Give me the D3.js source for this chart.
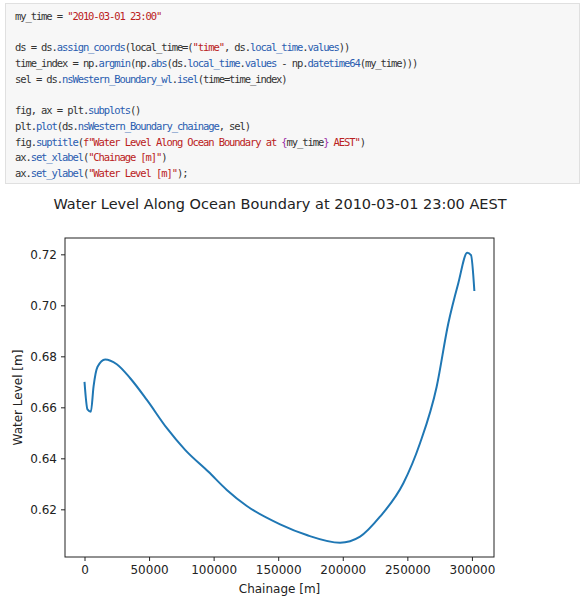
<!DOCTYPE html>
<html><head><meta charset="utf-8">
<script src="https://cdn.jsdelivr.net/npm/d3@7"></script>
<style>
body{margin:0;background:#fff;font-family:"DejaVu Sans",sans-serif;}
#code{position:absolute;left:5px;top:3px;width:575px;height:181px;background:#f7f7f7;border:1px solid #e0e0e0;box-sizing:border-box;}
#code pre{margin:0;padding:5px 0 0 9px;font-family:"DejaVu Sans Mono",monospace;font-size:10.5px;letter-spacing:-1.1px;line-height:15.7px;color:#333;}
.s{color:#ba2121}.a{color:#2a5db0}.k{color:#9a2fa8}
</style></head><body>
<div id="code"><pre>my_time = <span class="s">"2010-03-01 23:00"</span>

ds = ds.<span class="a">assign_coords</span>(local_time=(<span class="s">"time"</span>, ds.<span class="a">local_time</span>.<span class="a">values</span>))
time_index = np.<span class="a">argmin</span>(np.<span class="a">abs</span>(ds.<span class="a">local_time</span>.<span class="a">values</span> - np.<span class="a">datetime64</span>(my_time)))
sel = ds.<span class="a">nsWestern_Boundary_wl</span>.<span class="a">isel</span>(time=time_index)

fig, ax = plt.<span class="a">subplots</span>()
plt.<span class="a">plot</span>(ds.<span class="a">nsWestern_Boundary_chainage</span>, sel)
fig.<span class="a">suptitle</span>(<span class="s">f"Water Level Along Ocean Boundary at </span><span class="k">{</span>my_time<span class="k">}</span><span class="s"> AEST"</span>)
ax.<span class="a">set_xlabel</span>(<span class="s">"Chainage [m]"</span>)
ax.<span class="a">set_ylabel</span>(<span class="s">"Water Level [m]"</span>);</pre></div>
<svg id="chart" width="586" height="599" style="position:absolute;left:0;top:0;pointer-events:none"></svg>
<script>
const chainage = [0, 2300, 4950, 7000, 10100, 16000, 25000, 35400, 48300, 63800, 77900, 96000, 110200, 125700, 151500, 172100, 197900, 213400, 228800, 246900, 259800, 272700, 281700, 289400, 296400, 299300, 301900];
const waterLevel = [0.670, 0.6592, 0.6583, 0.6681, 0.6759, 0.6788, 0.6769, 0.6714, 0.6629, 0.6518, 0.6433, 0.6347, 0.6276, 0.6213, 0.6141, 0.6099, 0.6069, 0.6093, 0.6171, 0.6302, 0.6459, 0.6681, 0.6929, 0.7086, 0.7206, 0.7197, 0.7056];
const xTicks = [0, 50000, 100000, 150000, 200000, 250000, 300000];
const yTicks = [0.62, 0.64, 0.66, 0.68, 0.70, 0.72];

const M = {left: 65, right: 92, top: 238, bottom: 42};
const svg = d3.select("#chart");
const W = 586 - M.left - M.right, H = 599 - M.top - M.bottom;

const X = d3.scaleLinear().domain([-15100, 317100]).range([0, W]);
const Y = d3.scaleLinear().domain([0.6013, 0.7264]).range([H, 0]);

const g = svg.append("g").attr("transform", "translate(" + M.left + "," + M.top + ")");

g.append("path")
  .datum(d3.zip(chainage, waterLevel))
  .attr("fill", "none").attr("stroke", "#1f77b4").attr("stroke-width", 2)
  .attr("d", d3.line().x(d => X(d[0])).y(d => Y(d[1])).curve(d3.curveMonotoneX));

const xa = g.append("g").attr("transform", "translate(0," + H + ")")
  .call(d3.axisBottom(X).tickValues(xTicks).tickFormat(d3.format("d")).tickSizeOuter(0).tickSize(4).tickPadding(4));
const ya = g.append("g")
  .call(d3.axisLeft(Y).tickValues(yTicks).tickFormat(d3.format(".2f")).tickSizeOuter(0).tickSize(4).tickPadding(4));
[xa, ya].forEach(a => {
  a.select(".domain").remove();
  a.selectAll("text").attr("font-family", "DejaVu Sans").attr("font-size", 12).attr("fill", "#222");
  a.selectAll("line").attr("stroke", "#222");
});
g.append("rect").attr("width", W).attr("height", H).attr("fill", "none").attr("stroke", "#222").attr("stroke-width", 1);

svg.append("text").attr("x", 280).attr("y", 209).attr("text-anchor", "middle")
  .attr("font-size", 14.5).attr("fill", "#222")
  .text("Water Level Along Ocean Boundary at 2010-03-01 23:00 AEST");
svg.append("text").attr("x", M.left + W / 2).attr("y", 593).attr("text-anchor", "middle")
  .attr("font-size", 12).attr("fill", "#222").text("Chainage [m]");
svg.append("text").attr("transform", "translate(22," + (M.top + H / 2) + ") rotate(-90)")
  .attr("text-anchor", "middle").attr("font-size", 12).attr("fill", "#222").text("Water Level [m]");
</script>
</body></html>
